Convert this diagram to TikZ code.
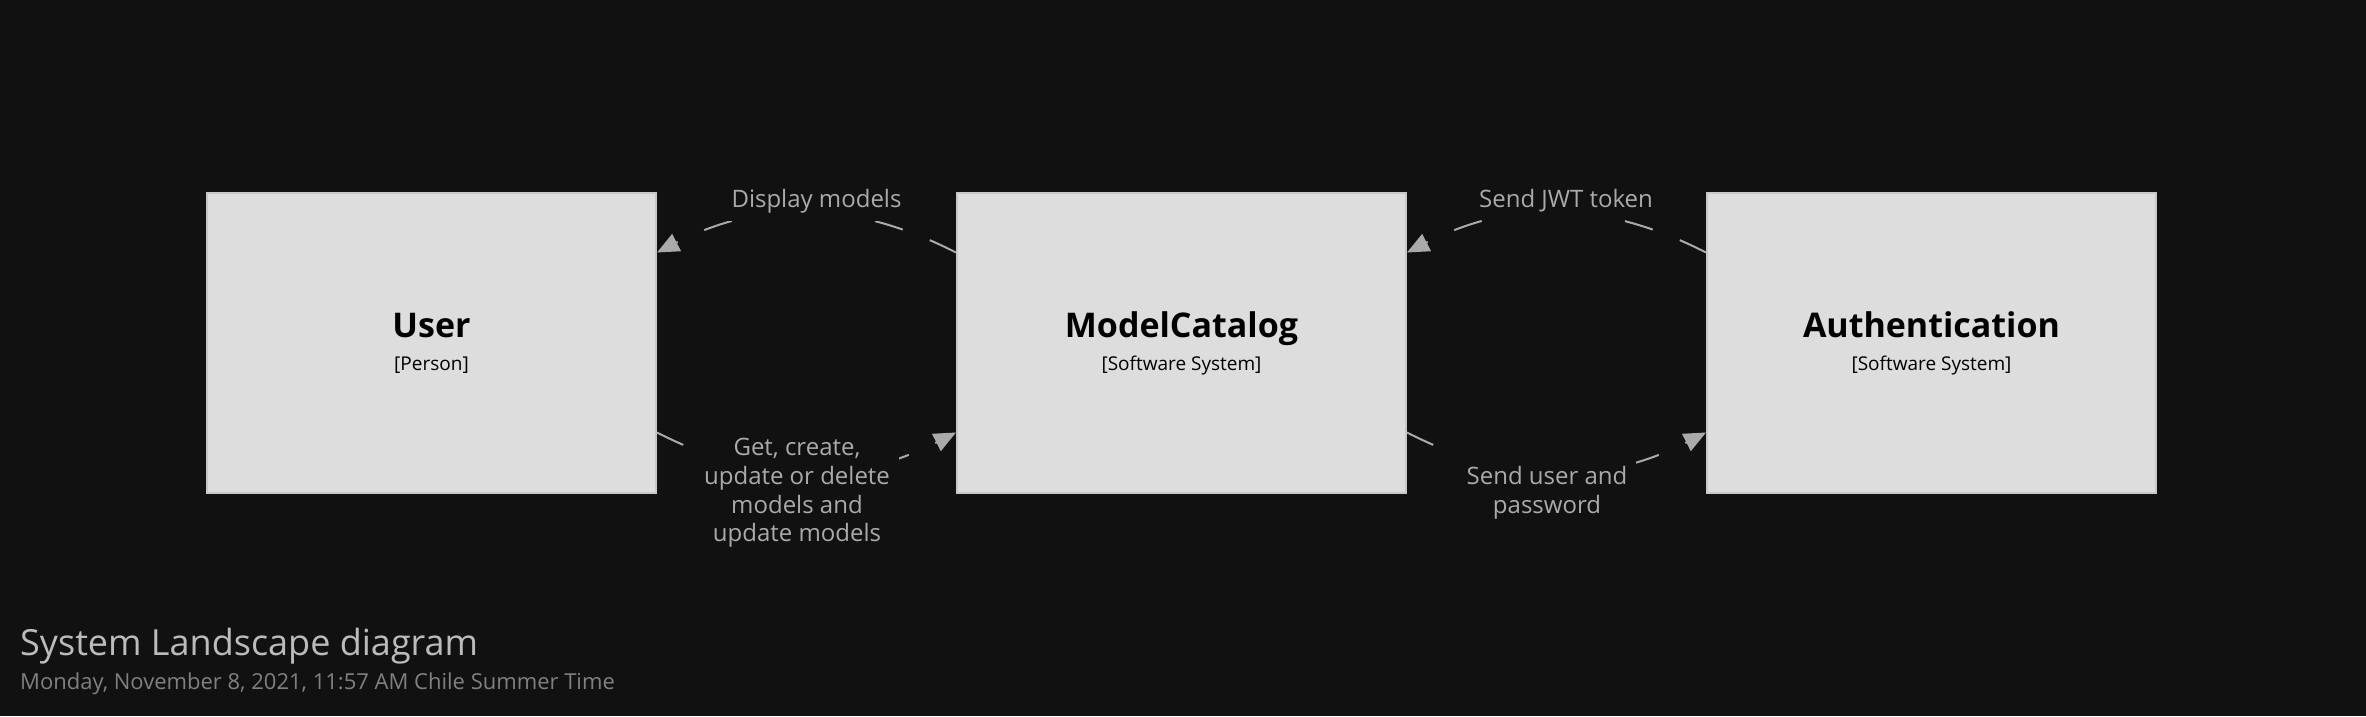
\documentclass[tikz,border=0pt]{standalone}
\usepackage{fontspec}
\setmainfont{Open Sans}
\usetikzlibrary{arrows.meta}

\definecolor{bg}{HTML}{111111}
\definecolor{boxfill}{HTML}{DDDDDD}
\definecolor{boxline}{HTML}{C8C8C8}
\definecolor{relcol}{HTML}{AAAAAA}
\definecolor{titlecol}{HTML}{BBBBBB}
\definecolor{datecol}{HTML}{808080}

\begin{document}
\begin{tikzpicture}[x=1pt, y=-1pt, >={Triangle[length=22pt,width=19pt]},
  system/.style={draw=boxline, fill=boxfill, line width=2pt,
    minimum width=449pt, minimum height=300pt, inner sep=0pt},
  sysname/.style={anchor=base, text=black, font=\fontsize{34}{40}\selectfont\bfseries},
  systype/.style={anchor=base, text=black, font=\fontsize{19}{23}\selectfont},
  rel/.style={relcol, line width=2pt, dash pattern=on 29pt off 29pt, ->, bend right=27},
  rellabel/.style={fill=bg, text=relcol, align=center, inner xsep=9pt, inner ysep=#1,
    font=\fontsize{24}{28.7}\selectfont},
  rellabel/.default=11pt]
  \fill[bg] (0,0) rectangle (2366,716);
  \useasboundingbox (0,0) rectangle (2366,716);

  % software systems
  \node[system] (user) at (431.5,342.5) {};
  \node[system] (catalog) at (1181.5,342.5) {};
  \node[system] (auth) at (1931.5,342.5) {};
  \node[sysname] (userName) at ([yshift=5.5pt]user.center) {User};
  \node[systype] (userType) at ([yshift=-27.5pt]user.center) {[Person]};
  \node[sysname] (catalogName) at ([yshift=5.5pt]catalog.center) {ModelCatalog};
  \node[systype] (catalogType) at ([yshift=-27.5pt]catalog.center) {[Software System]};
  \node[sysname] (authName) at ([yshift=5.5pt]auth.center) {Authentication};
  \node[systype] (authType) at ([yshift=-27.5pt]auth.center) {[Software System]};

  % relationships
  \draw[rel] ([yshift=90pt]catalog.west) to ([yshift=90pt]user.east);
  \draw[rel] ([yshift=-90pt]user.east) to ([yshift=-90pt]catalog.west);
  \draw[rel] ([yshift=90pt]auth.west) to ([yshift=90pt]catalog.east);
  \draw[rel] ([yshift=-90pt]catalog.east) to ([yshift=-90pt]auth.west);
  \node[rellabel=8pt] (displayLbl) at (816.5,201) {Display models};
  \node[rellabel=14pt] (crudLbl) at (797,493) {Get, create,\\update or delete\\models and\\update models};
  \node[rellabel=8pt] (jwtLbl) at (1566,201) {Send JWT token};
  \node[rellabel=14pt] (loginLbl) at (1547,493) {Send user and\\password};

  % title
  \node[anchor=base west, inner sep=0pt, text=titlecol, font=\fontsize{36}{42}\selectfont] (title) at (20,655) {System Landscape diagram};
  \node[anchor=base west, inner sep=0pt, text=datecol, font=\fontsize{22}{27}\selectfont] (date) at (20,689) {Monday, November 8, 2021, 11:57 AM Chile Summer Time};
\end{tikzpicture}
\end{document}
